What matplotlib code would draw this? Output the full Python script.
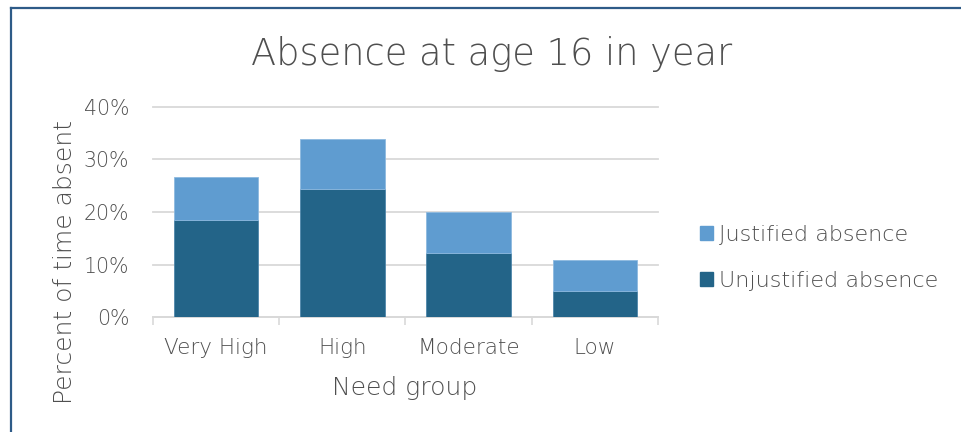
import numpy as np
import matplotlib.pyplot as plt
from matplotlib.patches import Patch
from matplotlib.lines import Line2D
from matplotlib.ticker import PercentFormatter, FixedLocator

groups = ["Very High", "High", "Moderate", "Low"]
unjustified = [18.5, 24.3, 12.2, 5.0]
justified = [8.1, 9.5, 7.8, 5.9]
yticks = [0, 10, 20, 30, 40]

dark = "#236488"
light = "#5F9CD0"
grey_text = "#4F4F4F"
grid_col = "#D9D9D9"

plt.rcParams['font.family'] = ['DejaVu Sans']
plt.rcParams['font.weight'] = 'light'

W, H = 962, 432
fig = plt.figure(figsize=(W / 100, H / 100), dpi=100)
ax = fig.add_axes([153 / W, 1 - 317.3 / H, (658 - 153) / W, (317.3 - 106.7) / H])

x = np.arange(len(groups))
ax.bar(x, unjustified, width=0.67, color=dark, edgecolor="#4F86AA", linewidth=0.6,
       zorder=3, label="Unjustified absence")
ax.bar(x, justified, width=0.67, bottom=unjustified, color=light, edgecolor="#8DB9DF",
       linewidth=0.6, zorder=3, label="Justified absence")

ax.set_xlim(-0.5, len(groups) - 0.5)
ax.set_ylim(0, 40)
ax.set_yticks(yticks)
ax.yaxis.set_major_formatter(PercentFormatter(decimals=0))
ax.grid(axis="y", color=grid_col, linewidth=1.3, zorder=0)
for gl in ax.get_ygridlines():
    gl.set_clip_on(False)

ax.set_xticks(x)
ax.set_xticklabels(groups)
ax.xaxis.set_minor_locator(FixedLocator(np.arange(-0.5, len(groups), 1.0)))
ax.tick_params(axis="x", which="major", length=0, pad=15, labelsize=15.5, labelcolor=grey_text)
ax.tick_params(axis="x", which="minor", length=5.5, width=1.2, color=grid_col)
ax.tick_params(axis="y", length=0, pad=17, labelsize=14.8, labelcolor=grey_text)

for s in ["top", "right", "left"]:
    ax.spines[s].set_visible(False)
ax.spines["bottom"].set_color(grid_col)
ax.spines["bottom"].set_linewidth(1.3)

fig.text(492 / W, 1 - 65 / H, "Absence at age 16 in year", ha="center", va="baseline",
         fontsize=26.5, color=grey_text)
fig.text(405 / W, 1 - 395 / H, "Need group", ha="center", va="baseline",
         fontsize=18, color=grey_text)
fig.text(72 / W, 1 - 262 / H, "Percent of time absent", ha="center", va="baseline",
         rotation=90, rotation_mode="anchor", fontsize=18, color=grey_text)

handles = [Patch(color=light, label="Justified absence"),
           Patch(color=dark, label="Unjustified absence")]
fig.legend(handles=handles, loc="center left", bbox_to_anchor=(700 / W, 1 - 258 / H),
           frameon=False, fontsize=16, labelcolor=grey_text, handlelength=0.6,
           handleheight=0.6, handletextpad=0.25, labelspacing=1.15, borderpad=0,
           borderaxespad=0)

fig.add_artist(Line2D([11 / W, 1], [1 - 8 / H, 1 - 8 / H], color="#2E5B88", linewidth=1.6))
fig.add_artist(Line2D([11 / W, 11 / W], [0, 1 - 8 / H], color="#2E5B88", linewidth=1.6))

fig.savefig("out.png", dpi=100)
